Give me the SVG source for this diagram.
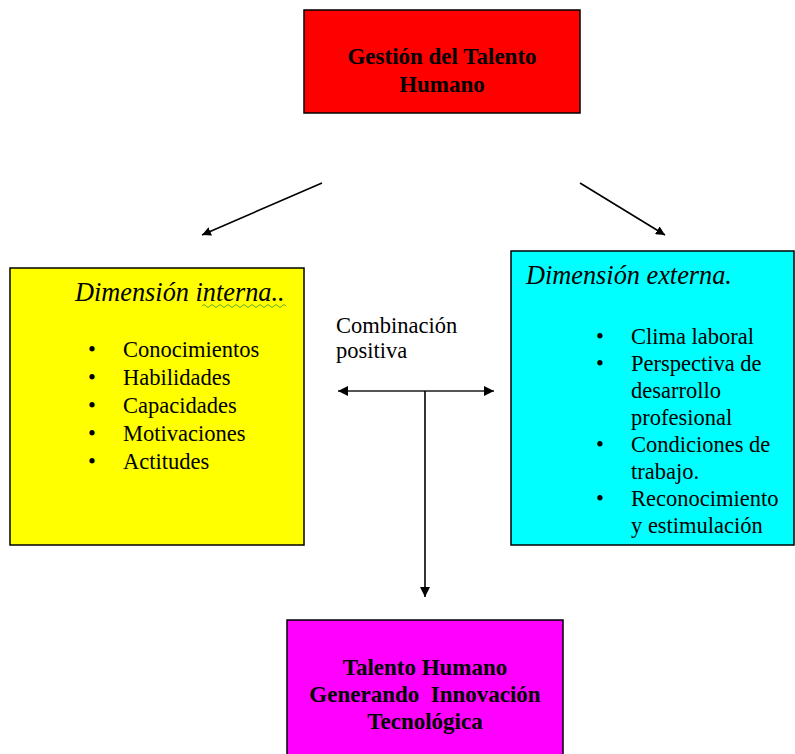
<svg xmlns="http://www.w3.org/2000/svg" width="795" height="754" viewBox="0 0 795 754">
<style>
.box{stroke:#000;stroke-width:1.5}
.bold{font-family:"Liberation Serif","DejaVu Serif",serif;font-weight:bold;font-size:23px;fill:#000;text-anchor:middle}
.it{font-family:"Liberation Serif","DejaVu Serif",serif;font-style:italic;font-size:26.3px;fill:#000}
.txt{font-family:"Liberation Serif","DejaVu Serif",serif;font-size:22.5px;fill:#000}
.conn{stroke:#000;stroke-width:1.6;fill:none}
</style>
<defs>
<marker id="ah" viewBox="0 0 10 10" refX="10" refY="5" markerWidth="9" markerHeight="9" markerUnits="userSpaceOnUse" orient="auto"><path d="M0,0 L10,5 L0,10 z" fill="#000"/></marker>
<marker id="ah2" viewBox="0 0 10 10" refX="10" refY="5" markerWidth="10" markerHeight="10" markerUnits="userSpaceOnUse" orient="auto-start-reverse"><path d="M0,0 L10,5 L0,10 z" fill="#000"/></marker>
</defs>
<rect width="795" height="754" fill="#fff"/>
<g id="gestion">
<rect class="box" x="304" y="10" width="276" height="103" fill="#ff0000"/>
<text class="bold" x="442" y="64">Gestión del Talento</text>
<text class="bold" x="442" y="92">Humano</text>
</g>
<g id="interna">
<rect class="box" x="10" y="268" width="294" height="277" fill="#ffff00"/>
<text class="it" x="75" y="301">Dimensión interna..</text>
<path d="M202,306 q2,-3 4,0 t4,0 t4,0 t4,0 t4,0 t4,0 t4,0 t4,0 t4,0 t4,0 t4,0 t4,0 t4,0 t4,0 t4,0 t4,0 t4,0 t4,0 t4,0 t4,0 t4,0" fill="none" stroke="#3a9a3a" stroke-width="0.8"/>
<g class="txt">
<text x="88" y="357">•</text><text x="123" y="357">Conocimientos</text>
<text x="88" y="385">•</text><text x="123" y="385">Habilidades</text>
<text x="88" y="413">•</text><text x="123" y="413">Capacidades</text>
<text x="88" y="441">•</text><text x="123" y="441">Motivaciones</text>
<text x="88" y="469">•</text><text x="123" y="469">Actitudes</text>
</g>
</g>
<g id="externa">
<rect class="box" x="511" y="251" width="283" height="294" fill="#00ffff"/>
<text class="it" x="526" y="284">Dimensión externa.</text>
<g class="txt">
<text x="596" y="344">•</text><text x="631" y="344">Clima laboral</text>
<text x="596" y="371">•</text><text x="631" y="371">Perspectiva de</text>
<text x="631" y="398">desarrollo</text>
<text x="631" y="425">profesional</text>
<text x="596" y="452">•</text><text x="631" y="452">Condiciones de</text>
<text x="631" y="479">trabajo.</text>
<text x="596" y="506">•</text><text x="631" y="506">Reconocimiento</text>
<text x="631" y="533">y estimulación</text>
</g>
</g>
<g id="combinacion">
<text class="txt" x="336" y="333" font-size="21">Combinación</text>
<text class="txt" x="336" y="358" font-size="21">positiva</text>
</g>
<g id="resultado">
<rect class="box" x="287" y="620" width="276" height="140" fill="#ff00ff"/>
<text class="bold" x="425" y="675">Talento Humano</text>
<text class="bold" x="425" y="702" xml:space="preserve">Generando  Innovación</text>
<text class="bold" x="425" y="729">Tecnológica</text>
</g>
<g id="connectors">
<line class="conn" x1="322" y1="183" x2="202" y2="235" marker-end="url(#ah)"/>
<line class="conn" x1="580" y1="183" x2="665" y2="235" marker-end="url(#ah)"/>
<line x1="338" y1="391" x2="494" y2="391" stroke="#555" stroke-width="2.2" marker-start="url(#ah2)" marker-end="url(#ah2)"/>
<line class="conn" x1="425" y1="391" x2="425" y2="597" marker-end="url(#ah2)"/>
</g>
</svg>
